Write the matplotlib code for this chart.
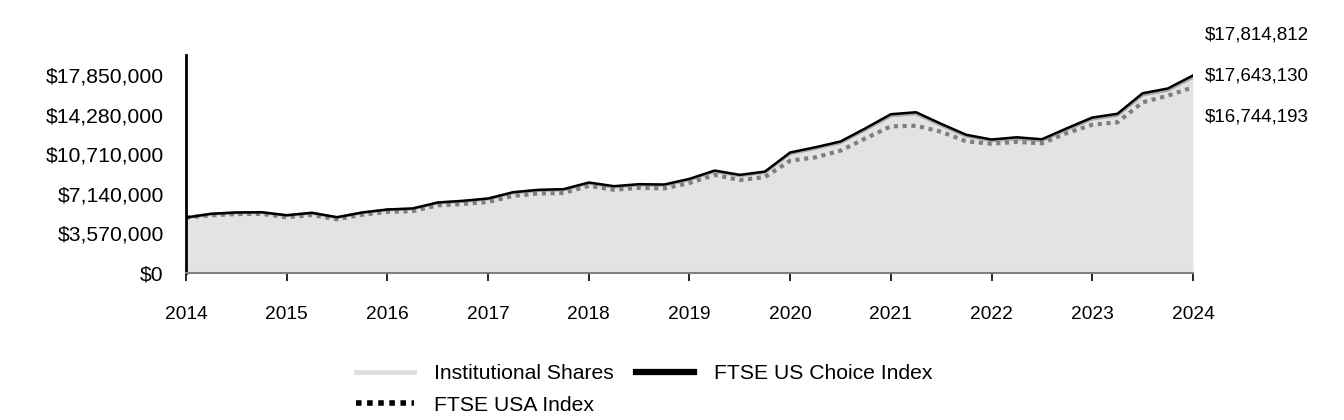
import numpy as np
import matplotlib.pyplot as plt
from matplotlib.lines import Line2D
from matplotlib.ticker import FuncFormatter

plt.rcParams['font.family'] = ['Liberation Sans', 'DejaVu Sans']

# quarterly dates 2014 - 2024
dates = np.arange(2014.0, 2024.01, 0.25)

# values in $ millions
choice_index = [5.00, 5.34, 5.46, 5.48, 5.21, 5.43, 5.03, 5.46, 5.73, 5.82,
                6.36, 6.51, 6.72, 7.29, 7.50, 7.56, 8.16, 7.83, 8.01, 7.98,
                8.49, 9.24, 8.85, 9.15, 10.87, 11.34, 11.86, 13.06, 14.32, 14.50,
                13.45, 12.46, 12.04, 12.24, 12.06, 13.06, 14.02, 14.36, 16.21, 16.64,
                17.814812]
inst_shares = [5.00, 5.32, 5.43, 5.45, 5.18, 5.40, 5.00, 5.42, 5.69, 5.78,
               6.31, 6.46, 6.67, 7.23, 7.44, 7.50, 8.09, 7.76, 7.94, 7.91,
               8.41, 9.15, 8.77, 9.06, 10.76, 11.23, 11.75, 12.93, 14.18, 14.36,
               13.32, 12.34, 11.92, 12.11, 11.93, 12.93, 13.88, 14.21, 16.05, 16.48,
               17.643130]
usa_index = [5.00, 5.20, 5.32, 5.33, 5.03, 5.23, 4.85, 5.26, 5.51, 5.58,
             6.10, 6.23, 6.40, 6.96, 7.17, 7.22, 7.86, 7.51, 7.68, 7.63,
             8.12, 8.84, 8.38, 8.65, 10.13, 10.43, 11.03, 12.15, 13.23, 13.28,
             12.74, 11.87, 11.66, 11.83, 11.69, 12.63, 13.37, 13.59, 15.39, 15.99,
             16.744193]
end_labels = ['$17,814,812', '$17,643,130', '$16,744,193']
y_ticks = [0, 3570000, 7140000, 10710000, 14280000, 17850000]
years = list(range(2014, 2025))

choice = np.array(choice_index) * 1e6
inst = np.array(inst_shares) * 1e6
usa = np.array(usa_index) * 1e6

fig = plt.figure(figsize=(13.44, 4.2), dpi=100)
ax = fig.add_axes([0.1384, 0.35, 0.7492, 0.519])

ax.fill_between(dates, 0, inst, color='#e3e3e3', lw=0)
ax.plot(dates, inst, color='#a8a8a8', lw=2.2)
ax.plot(dates, usa, color='#7f7f7f', lw=3, linestyle=(0, (1, 1.1)))
ax.plot(dates, choice, color='black', lw=1.8)

ax.set_xlim(2014, 2024)
ax.set_ylim(0, 19.66e6)
ax.set_xticks(years)
ax.set_yticks(y_ticks)
ax.yaxis.set_major_formatter(FuncFormatter(lambda v, p: f'${v:,.0f}'))
ax.tick_params(axis='x', length=6, width=1.2, pad=18, labelsize=13.8, color='black')
ax.tick_params(axis='y', length=0, pad=16, labelsize=15.2)

for s in ['top', 'right']:
    ax.spines[s].set_visible(False)
ax.spines['left'].set_linewidth(2)
ax.spines['bottom'].set_color('#7f7f7f')
ax.spines['bottom'].set_linewidth(1.5)

for i, lab in enumerate(end_labels):
    fig.text(1205 / 1344, 1 - (35 + 41 * i) / 420, lab, fontsize=13.5,
             ha='left', va='center')

handles = [
    Line2D([], [], color='#dedede', lw=3.5),
    Line2D([], [], color='black', lw=4.5),
    Line2D([], [], color='black', lw=4, linestyle=(0, (1, 1))),
]
labels = ['Institutional Shares', 'FTSE US Choice Index', 'FTSE USA Index']
order = [0, 2, 1]
fig.legend([handles[i] for i in order], [labels[i] for i in order],
           loc='upper left', bbox_to_anchor=(356 / 1344, 1 - 364 / 420),
           ncol=2, frameon=False, fontsize=15.2, handlelength=2.75,
           handletextpad=0.95, columnspacing=1.05, labelspacing=0.6,
           borderpad=0, borderaxespad=0)

fig.savefig('out.png', dpi=100)
